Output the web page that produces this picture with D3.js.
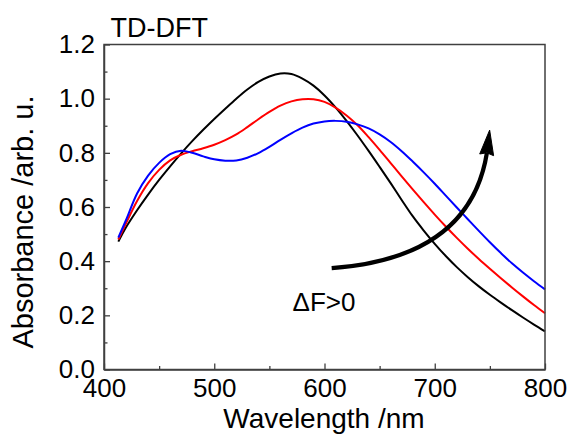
<!DOCTYPE html>
<html>
<head>
<meta charset="utf-8">
<script src="https://cdn.jsdelivr.net/npm/d3@7"></script>
<style>
  html, body { margin: 0; padding: 0; background: #fff; }
  svg { display: block; font-family: "Liberation Sans", Arial, Helvetica, sans-serif; }
</style>
</head>
<body>
<svg id="chart" width="571" height="435"></svg>
<script>
// ---- data ----
const wlGrid = [413,420,430,440,450,460,470,480,490,500,510,520,530,540,550,560,570,580,590,600,610,620,630,640,650,660,670,680,690,700,710,720,730,740,750,760,770,780,790,800];
const blackAbs = [0.472,0.525,0.588,0.646,0.700,0.750,0.798,0.843,0.885,0.925,0.963,1.000,1.034,1.062,1.082,1.093,1.091,1.074,1.048,1.012,0.968,0.918,0.864,0.807,0.748,0.688,0.626,0.566,0.513,0.464,0.419,0.378,0.341,0.307,0.276,0.247,0.219,0.192,0.166,0.141];
const redAbs   = [0.480,0.540,0.622,0.688,0.737,0.772,0.793,0.806,0.817,0.830,0.847,0.868,0.895,0.924,0.951,0.974,0.990,0.998,0.998,0.988,0.967,0.938,0.902,0.858,0.811,0.762,0.713,0.665,0.618,0.572,0.528,0.486,0.446,0.408,0.372,0.337,0.303,0.270,0.238,0.2075];
const blueAbs  = [0.487,0.552,0.650,0.716,0.763,0.795,0.808,0.800,0.787,0.776,0.771,0.772,0.782,0.799,0.822,0.848,0.872,0.893,0.908,0.916,0.918,0.915,0.905,0.890,0.868,0.840,0.806,0.768,0.728,0.686,0.642,0.598,0.555,0.512,0.470,0.430,0.392,0.358,0.326,0.296];

const xTicks = [400,500,600,700,800];
const yTicks = [0.0,0.2,0.4,0.6,0.8,1.0,1.2];
const xMinor = [450,550,650,750];
const yMinor = [0.1,0.3,0.5,0.7,0.9,1.1];

// annotation arrow (data coordinates): start, control, end of curve, tip
const arrowWl = [606.5, 732, 747.3, 749.8];
const arrowAbs = [0.374, 0.412, 0.800, 0.884];

const titleText = "TD-DFT";
const xLabel = "Wavelength /nm";
const yLabel = "Absorbance /arb. u.";
const noteText = "\u0394F>0";

// ---- layout ----
const svg = d3.select("#chart");
const m = {left: 104, top: 44.5, right: 545, bottom: 369.5};
const x = d3.scaleLinear().domain([400, 800]).range([m.left, m.right]);
const y = d3.scaleLinear().domain([0, 1.2]).range([m.bottom, m.top]);
const frameColor = "#404040";

// curves
const line = d3.line().x(d => x(d[0])).y(d => y(d[1])).curve(d3.curveCatmullRom.alpha(0.5));
const series = [
  {a: blackAbs, c: "#000000"},
  {a: redAbs, c: "#ff0000"},
  {a: blueAbs, c: "#0000ff"}
];
const plot = svg.append("g");
series.forEach(s => {
  plot.append("path")
    .datum(d3.zip(wlGrid, s.a))
    .attr("d", line)
    .attr("fill", "none")
    .attr("stroke", s.c)
    .attr("stroke-width", 2);
});

// frame
svg.append("rect")
  .attr("x", m.left).attr("y", m.top)
  .attr("width", m.right - m.left).attr("height", m.bottom - m.top)
  .attr("fill", "none").attr("stroke", frameColor).attr("stroke-width", 1.5);

// axes
const xAxis = d3.axisBottom(x).tickValues(xTicks).tickSizeInner(-6).tickSizeOuter(0).tickPadding(9.5).tickFormat(d3.format("d"));
const gx = svg.append("g").attr("transform", `translate(0,${m.bottom})`).call(xAxis);
const yAxis = d3.axisLeft(y).tickValues(yTicks).tickSizeInner(-6).tickSizeOuter(0).tickPadding(9).tickFormat(d3.format(".1f"));
const gy = svg.append("g").attr("transform", `translate(${m.left},0)`).call(yAxis);
[gx, gy].forEach(g => {
  g.select(".domain").attr("stroke", frameColor).attr("stroke-width", 1.5);
  g.selectAll(".tick line").attr("stroke", frameColor).attr("stroke-width", 1.3);
  g.selectAll(".tick text").attr("fill", "#000").style("font-size", "26px")
    .style("font-family", '"Liberation Sans", Arial, sans-serif');
});
// minor ticks
const xMin = d3.axisBottom(x).tickValues(xMinor).tickSizeInner(-3.5).tickSizeOuter(0).tickFormat("");
svg.append("g").attr("transform", `translate(0,${m.bottom})`).call(xMin)
  .call(g => { g.select(".domain").remove(); g.selectAll("line").attr("stroke", frameColor).attr("stroke-width", 1.3); });
const yMin = d3.axisLeft(y).tickValues(yMinor).tickSizeInner(-3.5).tickSizeOuter(0).tickFormat("");
svg.append("g").attr("transform", `translate(${m.left},0)`).call(yMin)
  .call(g => { g.select(".domain").remove(); g.selectAll("line").attr("stroke", frameColor).attr("stroke-width", 1.3); });

// labels
svg.append("text").attr("x", 110.5).attr("y", 37.3).style("font-size", "27px").attr("fill", "#000").text(titleText);
svg.append("text").attr("x", 324).attr("y", 428).attr("text-anchor", "middle")
  .style("font-size", "28px").attr("fill", "#000").text(xLabel);
svg.append("text").attr("transform", "translate(33,222) rotate(-90)").attr("text-anchor", "middle")
  .style("font-size", "29px").attr("fill", "#000").text(yLabel);
svg.append("text").attr("x", x(571)).attr("y", 310.5).style("font-size", "26px").attr("fill", "#000").text(noteText);

// arrow
const p0 = [x(arrowWl[0]), y(arrowAbs[0])];
const pc = [x(arrowWl[1]), y(arrowAbs[1])];
const p1 = [x(arrowWl[2]), y(arrowAbs[2])];
const tip = [x(arrowWl[3]), y(arrowAbs[3])];
const ap = d3.path();
ap.moveTo(p0[0], p0[1]);
ap.quadraticCurveTo(pc[0], pc[1], p1[0], p1[1]);
svg.append("path").attr("d", ap.toString()).attr("fill", "none").attr("stroke", "#000").attr("stroke-width", 4.2);
const dx = tip[0] - p1[0], dy = tip[1] - p1[1];
const len = Math.hypot(dx, dy);
const nx = -dy / len * 7, ny = dx / len * 7;
const back = [p1[0] - dx / len * 2, p1[1] - dy / len * 2];
svg.append("path")
  .attr("d", `M${tip[0]},${tip[1]}L${back[0] + nx},${back[1] + ny}L${p1[0]},${p1[1]}L${back[0] - nx},${back[1] - ny}Z`)
  .attr("fill", "#000").attr("stroke", "#000").attr("stroke-width", 1).attr("stroke-linejoin", "miter");
</script>
</body>
</html>
